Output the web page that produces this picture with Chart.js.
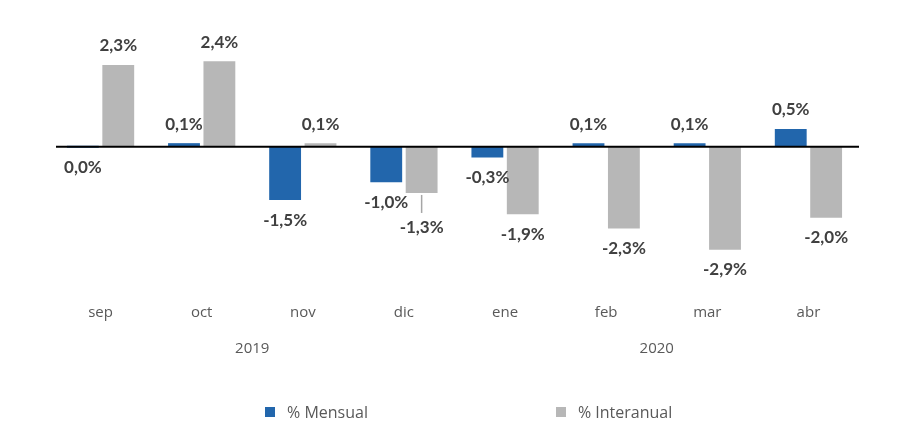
<!DOCTYPE html>
<html>
<head>
<meta charset="utf-8">
<script src="https://cdn.jsdelivr.net/npm/chart.js@4.4.1/dist/chart.umd.min.js"></script>
<style>
  html, body { margin: 0; padding: 0; background: #fff; }
  #wrap { position: relative; width: 905px; height: 444px; }
  #legend {
    position: absolute; left: 265px; top: 401px;
    display: flex; gap: 188px;
    font-family: "Open Sans", sans-serif; font-size: 16px; color: #595959;
  }
  #legend .item { display: flex; align-items: center; }
  #legend .box { width: 10px; height: 10px; margin-right: 12px; }
</style>
</head>
<body>
<div id="wrap">
  <canvas id="chart" width="905" height="444"></canvas>
  <div id="legend"></div>
</div>
<script>
// Data
const categories = ['sep', 'oct', 'nov', 'dic', 'ene', 'feb', 'mar', 'abr'];
const years = ['2019', '2020'];
const mensual = [0.0, 0.1, -1.5, -1.0, -0.3, 0.1, 0.1, 0.5];
const interanual = [2.3, 2.4, 0.1, -1.3, -1.9, -2.3, -2.9, -2.0];

const BLUE = '#2266AC';
const GREY = '#B7B7B7';

function fmt(v) {
  return v.toFixed(1).replace('.', ',') + '%';
}

// zero line + value labels
const labelPlugin = {
  id: 'valueLabels',
  afterDatasetsDraw(chart) {
    const ctx = chart.ctx;
    const y = chart.scales.y;
    const area = chart.chartArea;
    const zero = y.getPixelForValue(0);

    ctx.save();
    ctx.strokeStyle = '#000';
    ctx.lineWidth = 2;
    ctx.beginPath();
    ctx.moveTo(area.left + 6, zero);
    ctx.lineTo(area.right, zero);
    ctx.stroke();

    ctx.font = 'bold 17px Lato, "Liberation Sans", sans-serif';
    ctx.fillStyle = '#404040';
    ctx.textAlign = 'center';
    ctx.textBaseline = 'middle';

    chart.data.datasets.forEach((ds, di) => {
      const meta = chart.getDatasetMeta(di);
      meta.data.forEach((bar, i) => {
        const v = ds.data[i];
        let ty = v > 0 ? bar.y - 19 : bar.y + 20;
        // dic interanual label is pushed down with a leader line
        if (di === 1 && categories[i] === 'dic') {
          ty = bar.y + 35;
          ctx.strokeStyle = '#A6A6A6';
          ctx.lineWidth = 1.5;
          ctx.beginPath();
          ctx.moveTo(bar.x, bar.y + 2);
          ctx.lineTo(bar.x, bar.y + 20);
          ctx.stroke();
        }
        ctx.fillText(fmt(v), bar.x, ty);
      });
    });
    ctx.restore();
  }
};

const axisFont = { family: '"Open Sans", sans-serif', size: 15 };

const chart = new Chart(document.getElementById('chart'), {
  type: 'bar',
  data: {
    labels: categories,
    datasets: [
      { label: '% Mensual', data: mensual, backgroundColor: BLUE },
      { label: '% Interanual', data: interanual, backgroundColor: GREY }
    ]
  },
  options: {
    responsive: false,
    animation: false,
    layout: { padding: { left: 50, right: 46, top: 40, bottom: 75 } },
    datasets: {
      bar: { categoryPercentage: 0.7, barPercentage: 0.9, minBarLength: 2 }
    },
    plugins: {
      legend: { display: false },
      tooltip: { enabled: false }
    },
    scales: {
      y: { display: false, min: -4, max: 3 },
      x: {
        grid: { display: false, drawTicks: false },
        border: { display: false },
        ticks: { color: '#595959', padding: 15, font: axisFont },
        afterFit: s => { s.height = 40; }
      },
      x2: {
        type: 'category',
        position: 'bottom',
        labels: years,
        grid: { display: false, drawTicks: false },
        border: { display: false },
        ticks: { color: '#595959', padding: 11, font: axisFont },
        afterFit: s => { s.height = 40; }
      }
    }
  },
  plugins: [labelPlugin]
});

// Legend built from the datasets
const legend = document.getElementById('legend');
chart.data.datasets.forEach(ds => {
  const item = document.createElement('div');
  item.className = 'item';
  item.innerHTML = `<span class="box" style="background:${ds.backgroundColor}"></span><span>${ds.label}</span>`;
  legend.appendChild(item);
});
</script>
</body>
</html>
